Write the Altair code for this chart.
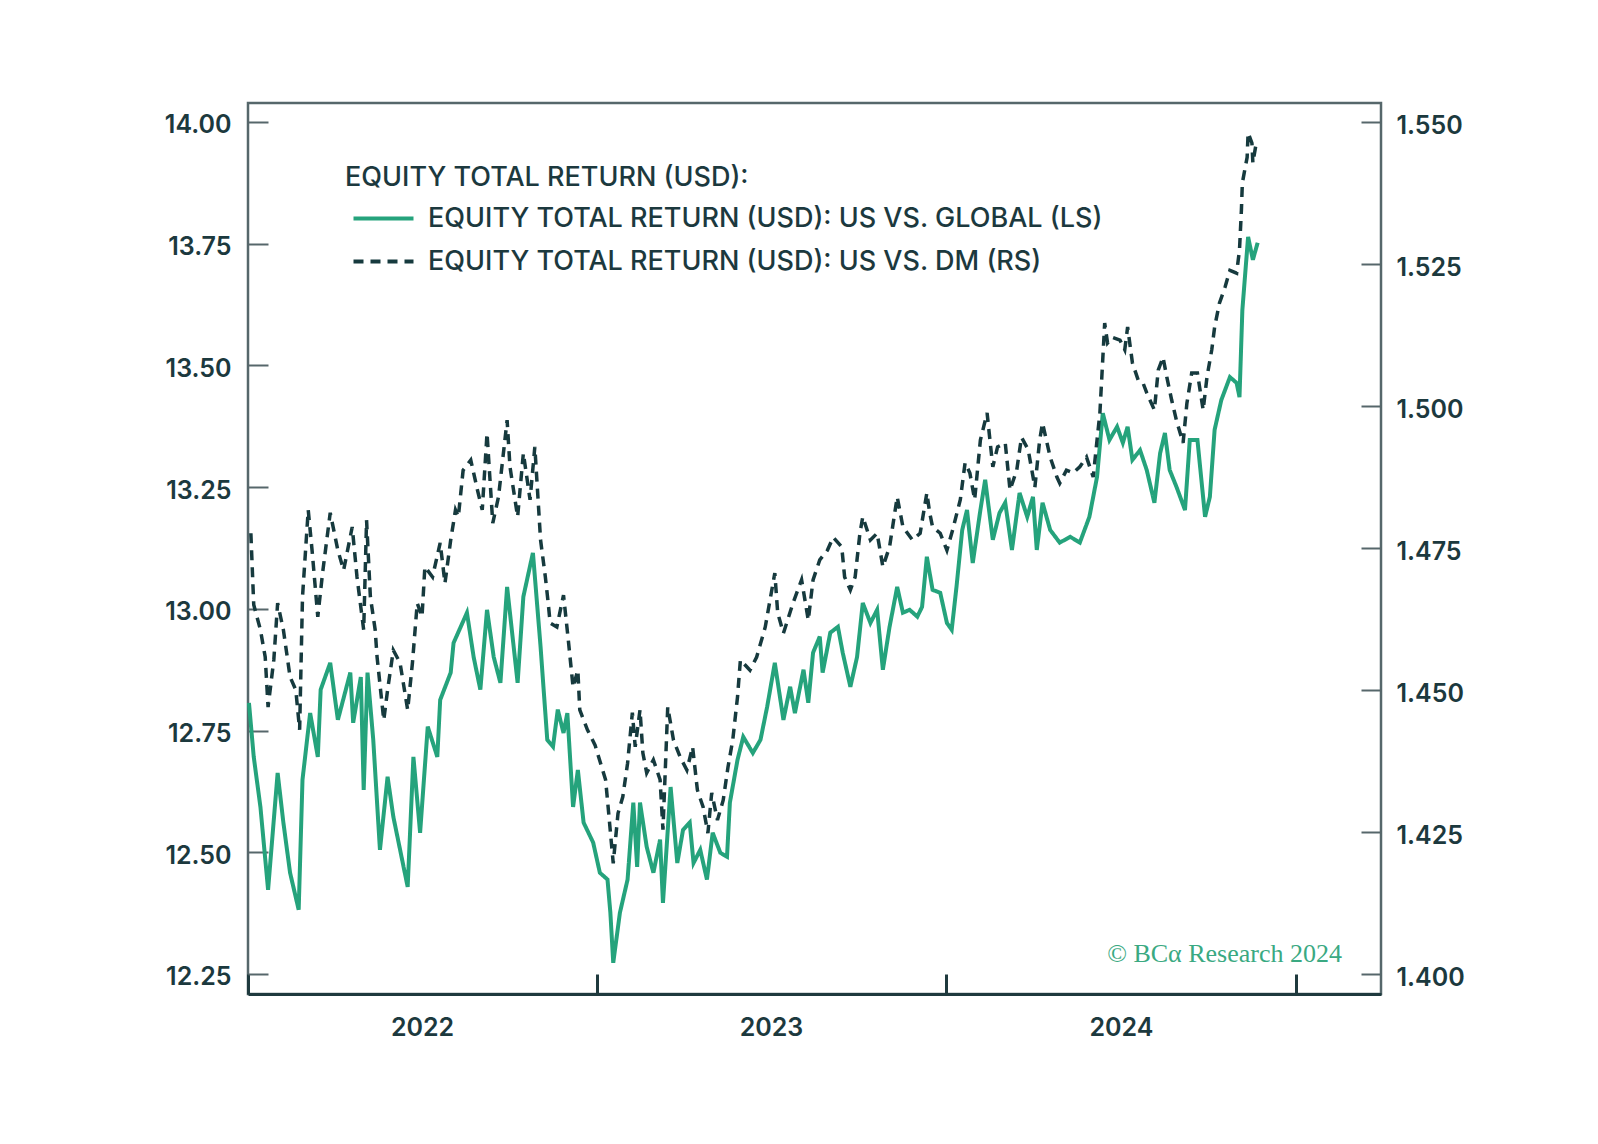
import altair as alt
import pandas as pd

GREEN_NAME = "EQUITY TOTAL RETURN (USD): US VS. GLOBAL (LS)"
DARK_NAME = "EQUITY TOTAL RETURN (USD): US VS. DM (RS)"
LEGEND_TITLE = "EQUITY TOTAL RETURN (USD):"
COPYRIGHT = "© BCα Research 2024"

# days since 2022-01-01 and values, US vs Global (left scale)
green_day = [1, 6, 13, 21, 31, 37, 44, 53, 57, 65,
             73, 76, 86, 94, 107, 110, 118, 121, 125, 131,
             138, 146, 152, 167, 173, 180, 188, 198, 201, 212,
             215, 229, 236, 243, 250, 257, 264, 271, 282, 288,
             298, 306, 313, 319, 324, 330, 334, 340, 345, 351,
             361, 368, 376, 379, 382, 389, 397, 403, 407, 410,
             417, 424, 431, 434, 442, 449, 455, 462, 466, 473,
             480, 486, 494, 501, 504, 512, 518, 528, 536, 543,
             551, 560, 567, 572, 581, 586, 591, 598, 601, 609,
             617, 622, 630, 637, 643, 651, 658, 664, 671, 679,
             685, 692, 700, 705, 710, 716, 724, 731, 736, 741,
             747, 752, 758, 766, 771, 779, 786, 792, 799, 807,
             815, 821, 825, 831, 839, 849, 860, 870, 880, 888,
             894, 901, 909, 915, 920, 925, 933, 940, 948, 954,
             959, 964, 971, 980, 985, 993, 1001, 1006, 1011, 1018,
             1027, 1034, 1037, 1040, 1046, 1051, 1056]
green_val = [12.807, 12.696, 12.593, 12.423, 12.663, 12.561, 12.458, 12.382, 12.649, 12.786,
             12.696, 12.834, 12.889, 12.772, 12.869, 12.766, 12.860, 12.628, 12.869, 12.731,
             12.505, 12.655, 12.573, 12.429, 12.696, 12.540, 12.758, 12.696, 12.813, 12.869,
             12.930, 12.992, 12.901, 12.834, 12.998, 12.901, 12.848, 13.045, 12.848, 13.025,
             13.115, 12.922, 12.731, 12.717, 12.793, 12.745, 12.786, 12.593, 12.669, 12.561,
             12.520, 12.458, 12.444, 12.376, 12.273, 12.376, 12.444, 12.602, 12.470, 12.602,
             12.511, 12.458, 12.526, 12.396, 12.634, 12.478, 12.546, 12.561, 12.478, 12.505,
             12.444, 12.540, 12.499, 12.491, 12.602, 12.690, 12.737, 12.704, 12.731, 12.799,
             12.889, 12.772, 12.840, 12.786, 12.875, 12.807, 12.910, 12.943, 12.869, 12.951,
             12.963, 12.910, 12.840, 12.901, 13.012, 12.971, 12.998, 12.875, 12.963, 13.045,
             12.992, 12.998, 12.984, 13.004, 13.107, 13.039, 13.033, 12.971, 12.957, 13.045,
             13.162, 13.203, 13.094, 13.203, 13.265, 13.142, 13.197, 13.218, 13.121, 13.238,
             13.189, 13.230, 13.121, 13.218, 13.162, 13.136, 13.148, 13.136, 13.189, 13.271,
             13.402, 13.347, 13.374, 13.341, 13.374, 13.306, 13.326, 13.285, 13.218, 13.320,
             13.361, 13.285, 13.251, 13.203, 13.347, 13.347, 13.189, 13.230, 13.368, 13.429,
             13.476, 13.464, 13.435, 13.614, 13.764, 13.717, 13.752]

# days since 2022-01-01 and values, US vs DM (right scale)
dark_day = [3, 6, 13, 18, 21, 27, 31, 37, 44, 50,
            54, 57, 63, 67, 73, 78, 86, 94, 100, 109,
            114, 121, 124, 128, 133, 135, 142, 146, 152, 159,
            167, 172, 177, 182, 185, 193, 201, 206, 212, 217,
            220, 225, 233, 240, 245, 250, 256, 262, 271, 274,
            282, 288, 295, 300, 306, 311, 314, 316, 323, 330,
            335, 340, 345, 347, 355, 363, 374, 376, 382, 387,
            392, 397, 402, 405, 410, 413, 417, 424, 431, 434,
            439, 445, 452, 459, 465, 470, 476, 481, 485, 491,
            497, 502, 507, 512, 515, 525, 532, 541, 551, 554,
            560, 570, 579, 586, 591, 598, 606, 612, 621, 624,
            630, 635, 640, 643, 651, 658, 664, 671, 679, 685,
            695, 703, 710, 713, 716, 724, 731, 737, 745, 750,
            755, 760, 766, 773, 776, 779, 784, 792, 797, 804,
            809, 816, 823, 828, 831, 839, 846, 849, 856, 863,
            870, 877, 884, 888, 891, 893, 896, 899, 904, 912,
            917, 920, 925, 931, 936, 940, 948, 952, 957, 961,
            966, 971, 978, 982, 987, 993, 999, 1003, 1008, 1011,
            1016, 1022, 1027, 1034, 1037, 1039, 1040, 1045, 1046, 1050,
            1051, 1055]
dark_val = [1.4776, 1.4650, 1.4606, 1.4558, 1.4470, 1.4553, 1.4653, 1.4606, 1.4523, 1.4500,
            1.4430, 1.4664, 1.4817, 1.4746, 1.4629, 1.4706, 1.4812, 1.4746, 1.4711, 1.4787,
            1.4699, 1.4606, 1.4799, 1.4664, 1.4606, 1.4558, 1.4447, 1.4500, 1.4570, 1.4548,
            1.4465, 1.4548, 1.4653, 1.4629, 1.4717, 1.4699, 1.4759, 1.4688, 1.4764, 1.4817,
            1.4805, 1.4887, 1.4905, 1.4852, 1.4817, 1.4952, 1.4794, 1.4840, 1.4975, 1.4893,
            1.4805, 1.4917, 1.4835, 1.4928, 1.4764, 1.4699, 1.4653, 1.4618, 1.4611, 1.4667,
            1.4588, 1.4505, 1.4535, 1.4465, 1.4430, 1.4403, 1.4342, 1.4306, 1.4195, 1.4283,
            1.4312, 1.4371, 1.4460, 1.4400, 1.4465, 1.4389, 1.4354, 1.4377, 1.4342, 1.4254,
            1.4470, 1.4412, 1.4382, 1.4359, 1.4400, 1.4324, 1.4294, 1.4248, 1.4319, 1.4271,
            1.4306, 1.4364, 1.4412, 1.4488, 1.4553, 1.4535, 1.4558, 1.4611, 1.4706, 1.4636,
            1.4600, 1.4653, 1.4694, 1.4623, 1.4694, 1.4729, 1.4746, 1.4769, 1.4752, 1.4699,
            1.4676, 1.4699, 1.4776, 1.4805, 1.4764, 1.4776, 1.4717, 1.4752, 1.4840, 1.4787,
            1.4764, 1.4776, 1.4847, 1.4812, 1.4787, 1.4776, 1.4746, 1.4782, 1.4835, 1.4900,
            1.4882, 1.4835, 1.4940, 1.4988, 1.4940, 1.4893, 1.4928, 1.4935, 1.4852, 1.4887,
            1.4945, 1.4923, 1.4857, 1.4940, 1.4970, 1.4910, 1.4875, 1.4864, 1.4887, 1.4882,
            1.4893, 1.4910, 1.4875, 1.4940, 1.4988, 1.5051, 1.5146, 1.5111, 1.5121, 1.5116,
            1.5099, 1.5139, 1.5076, 1.5046, 1.5041, 1.5023, 1.4993, 1.5063, 1.5086, 1.5051,
            1.5011, 1.4975, 1.4935, 1.5005, 1.5058, 1.5058, 1.4993, 1.5051, 1.5099, 1.5139,
            1.5181, 1.5210, 1.5239, 1.5234, 1.5275, 1.5345, 1.5393, 1.5438, 1.5481, 1.5463,
            1.5428, 1.5468]

left_ticks = [12.25, 12.50, 12.75, 13.00, 13.25, 13.50, 13.75, 14.00]
right_ticks = [1.400, 1.425, 1.450, 1.475, 1.500, 1.525, 1.550]
year_labels = [2022, 2023, 2024]
year_bounds = [2022, 2023, 2024, 2025]

GREEN = "#25a37c"
DARK = "#163a3e"
TEXT = "#1c393e"
FRAME = "#56676b"
TICKX = "#1f3a3e"
COPY_GREEN = "#3aa982"
FONT = "Inter"

W, H = 1133, 891

base_date = pd.Timestamp("2022-01-01")


def to_dates(days):
    return [(base_date + pd.Timedelta(days=d)).strftime("%Y-%m-%d") for d in days]


df_g = pd.DataFrame({"date": to_dates(green_day), "value": green_val, "series": GREEN_NAME})
df_d = pd.DataFrame({"date": to_dates(dark_day), "value": dark_val, "series": DARK_NAME})

xscale = alt.Scale(type="utc", domain=[alt.DateTime(year=2022, month=1, date=1, utc=True),
                                       alt.DateTime(year=2025, month=3, date=31, utc=True)])
yl_scale = alt.Scale(domain=[12.2089, 14.0390], nice=False, zero=False)
yr_scale = alt.Scale(domain=[1.39648, 1.55335], nice=False, zero=False)

legend = alt.Legend(
    title=LEGEND_TITLE, orient="none", legendX=97, legendY=62,
    symbolType="M-3,0H3", symbolSize=400, symbolStrokeWidth=4,
    symbolOffset=25, labelOffset=31, rowPadding=15, titlePadding=13,
    labelFont=FONT, titleFont=FONT, labelFontSize=27, titleFontSize=27,
    labelFontWeight=500, titleFontWeight=500, labelColor=TEXT, titleColor=TEXT,
    labelLimit=2000, titleLimit=2000, padding=0,
)
color = alt.Color("series:N", scale=alt.Scale(domain=[GREEN_NAME, DARK_NAME], range=[GREEN, DARK]),
                  legend=legend)
dash = alt.StrokeDash("series:N", scale=alt.Scale(domain=[GREEN_NAME, DARK_NAME], range=[[1, 0], [10, 7]]),
                      legend=legend)

x_labels = alt.X("date:T", scale=xscale, title=None, axis=alt.Axis(
    orient="bottom", values=[alt.DateTime(year=y, month=7, date=2, utc=True) for y in year_labels],
    labelExpr="utcFormat(datum.value, '%Y')", tickSize=0, domain=True, domainColor=TICKX,
    domainWidth=3, grid=False, labelPadding=21))
x_ticks = alt.X("date:T", scale=xscale, title=None, axis=alt.Axis(
    orient="top", offset=-H, values=[alt.DateTime(year=y, month=1, date=1, utc=True) for y in year_bounds],
    tickSize=20, tickWidth=3, tickColor=TICKX, labels=False, domain=False, grid=False))
x_none = alt.X("date:T", scale=xscale, axis=None)

green_line = alt.Chart(df_g).mark_line(strokeWidth=4).encode(
    x=x_labels,
    y=alt.Y("value:Q", scale=yl_scale, title=None, axis=alt.Axis(
        orient="left", values=left_ticks, format=".2f", tickSize=0, domain=False, grid=False,
        labelPadding=17, labelOffset=3)),
    color=color, strokeDash=dash,
)
dark_line = alt.Chart(df_d).mark_line(strokeWidth=3.5).encode(
    x=x_none,
    y=alt.Y("value:Q", scale=yr_scale, title=None, axis=alt.Axis(
        orient="right", values=right_ticks, format=".3f", tickSize=0, domain=False, grid=False,
        labelPadding=15, labelOffset=3)),
    color=color, strokeDash=dash,
)
green_ticks = alt.Chart(df_g).mark_line(strokeOpacity=0).encode(
    x=x_ticks,
    y=alt.Y("value:Q", scale=yl_scale, title=None, axis=alt.Axis(
        orient="right", offset=-W, values=left_ticks, tickSize=20, tickWidth=2, tickColor=FRAME,
        labels=False, domain=False, grid=False)),
)
dark_ticks = alt.Chart(df_d).mark_line(strokeOpacity=0).encode(
    x=x_none,
    y=alt.Y("value:Q", scale=yr_scale, title=None, axis=alt.Axis(
        orient="left", offset=-W, values=right_ticks, tickSize=20, tickWidth=2, tickColor=FRAME,
        labels=False, domain=False, grid=False)),
)
copyright_text = alt.Chart(pd.DataFrame({"label": [COPYRIGHT]})).mark_text(
    align="right", baseline="alphabetic", font="Liberation Serif", fontSize=26, color=COPY_GREEN
).encode(text="label:N", x=alt.value(W - 39), y=alt.value(859))

chart = alt.layer(green_line, dark_line, green_ticks, dark_ticks, copyright_text).resolve_scale(
    y="independent"
).resolve_axis(x="independent", y="independent").properties(
    width=W, height=H,
    autosize=alt.AutoSizeParams(type="none"),
    padding={"left": 240, "top": 95, "right": 150, "bottom": 130},
    background="white",
).configure_view(stroke=FRAME, strokeWidth=2.5).configure_axis(
    labelFont=FONT, labelFontSize=25, labelFontWeight=600, labelColor=TEXT
)

chart.save("out.html", embed_options={"renderer": "svg", "actions": False})
